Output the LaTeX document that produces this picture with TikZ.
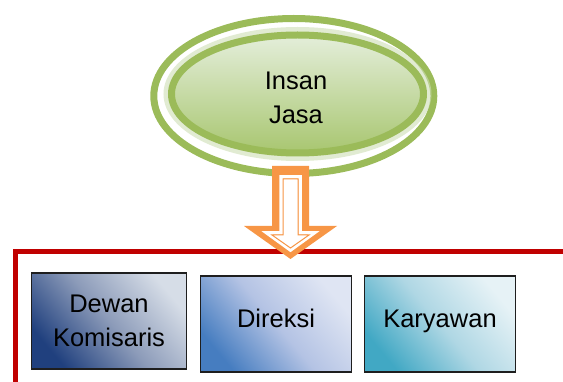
\documentclass[tikz,border=0pt]{standalone}
\usepackage{fontspec}
\setmainfont{Liberation Sans}
\usetikzlibrary{shapes.geometric}
\definecolor{ringgreen}{RGB}{155,187,89}
\definecolor{glowgreen}{RGB}{205,222,180}
\definecolor{orangearrow}{RGB}{247,150,70}
\definecolor{framered}{RGB}{192,0,0}
\tikzset{
  txt/.style={font=\fontsize{25.5}{34}\selectfont, text=black, align=center},
  unitbox/.style={draw={rgb,255:red,30;green,30;blue,30}, line width=1.3pt, txt,
     minimum height=96pt, inner sep=0pt},
}
\begin{document}
\begin{tikzpicture}[x=1pt,y=-1pt]
\useasboundingbox (0,0) rectangle (563,382);
% red frame
\draw[framered, line width=5pt] (15,384) -- (15,252) -- (566,252);
% outer ellipse ring
\draw[ringgreen, line width=7pt, fill=white] (293.8,96) ellipse [x radius=140, y radius=77.5];
% glow
\draw[glowgreen, line width=6pt, opacity=0.6] (297.5,94) ellipse [x radius=131, y radius=64];
% inner ellipse
\shade[top color={rgb,255:red,228;green,238;blue,218}, bottom color={rgb,255:red,168;green,198;blue,112}]
  (297.5,94) ellipse [x radius=126, y radius=59];
\draw[ringgreen, line width=7pt] (297.5,94) ellipse [x radius=126, y radius=59];
\node[txt] (insan) at (296,98) {Insan\\Jasa};
% block arrow
\coordinate (atop) at (290.5,166);
\coordinate (atip) at (290.5,259);
\fill[orangearrow] (272,166) -- (309,166) -- (309,226) -- (337,226) -- (atip) -- (244,226) -- (272,226) -- cycle;
\draw[white, line width=3.5pt, line join=miter] (281,177) -- (300,177) -- (300,233) -- (314,233) -- (290.5,250) -- (267,233) -- (281,233) -- cycle;
\draw[orangearrow, fill=white, line width=1pt, line join=miter] (283,179) -- (298,179) -- (298,235) -- (309,235) -- (290.5,248) -- (272,235) -- (283,235) -- cycle;
% boxes
\node[unitbox, minimum width=155pt, shading=axis, top color={rgb,255:red,214;green,221;blue,231}, bottom color={rgb,255:red,32;green,64;blue,126}, middle color={rgb,255:red,140;green,155;blue,185}, shading angle=-50] (dewan) at (109,321) {Dewan\\Komisaris};
\node[unitbox, minimum width=151pt, shading=axis, top color={rgb,255:red,223;green,229;blue,243}, bottom color={rgb,255:red,70;green,125;blue,192}, middle color={rgb,255:red,180;green,195;blue,228}, shading angle=-50, text depth=10pt, text height=18pt] (direksi) at (276,324) {Direksi};
\node[unitbox, minimum width=151pt, shading=axis, top color={rgb,255:red,230;green,242;blue,246}, bottom color={rgb,255:red,65;green,168;blue,196}, middle color={rgb,255:red,175;green,215;blue,228}, shading angle=-50, text depth=10pt, text height=18pt] (karyawan) at (440,324) {Karyawan};
\end{tikzpicture}
\end{document}
